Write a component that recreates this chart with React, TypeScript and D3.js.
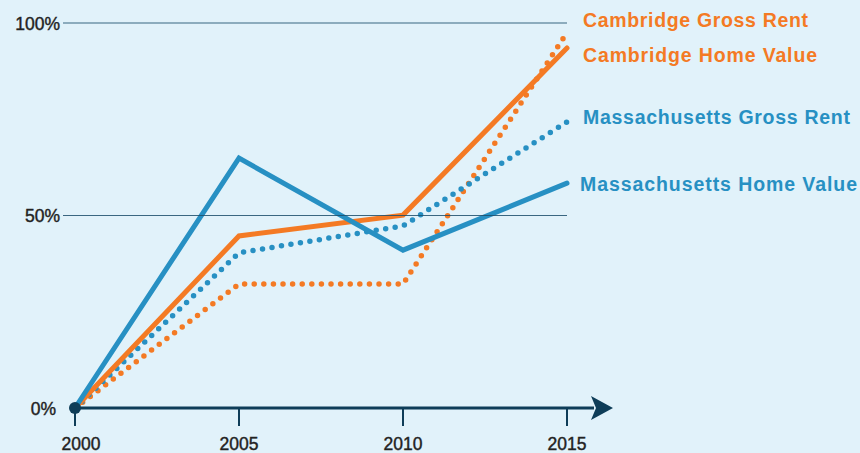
import React from "react";
import * as d3 from "d3";

const years = [2000, 2005, 2010, 2015];
const cambridgeGrossRent = [0, 32.2, 32.2, 97.5];
const cambridgeHomeValue = [0, 44.7, 50.1, 93.5];
const massGrossRent = [0, 40.3, 47.3, 74.3];
const massHomeValue = [0, 64.9, 41, 58.4];
const yTicks = [0, 50, 100];
const gridTicks = [50, 100];

const ORANGE = "#f47a24";
const BLUE = "#2790c3";
const NAVY = "#0e3d58";

const series = [
  { name: "Cambridge Gross Rent", values: cambridgeGrossRent, color: ORANGE, dotted: true, labelY: 27, labelX: 583, len: 225 },
  { name: "Massachusetts Gross Rent", values: massGrossRent, color: BLUE, dotted: true, labelY: 124, labelX: 583, len: 267 },
  { name: "Cambridge Home Value", values: cambridgeHomeValue, color: ORANGE, dotted: false, labelY: 62, labelX: 583, len: 234 },
  { name: "Massachusetts Home Value", values: massHomeValue, color: BLUE, dotted: false, labelY: 191, labelX: 580, len: 277 },
];

export default function App() {
  const W = 860, H = 453;
  const x = d3.scaleLinear().domain([2000, 2015]).range([75, 567]);
  const y = d3.scaleLinear().domain([0, 100]).range([408, 23]);
  const line = d3.line<number>().x((_, i) => x(years[i])).y((d) => y(d));

  return (
    <svg width={W} height={H} style={{ position: "absolute", left: 0, top: 0, background: "#e1f2fa" }}
      fontFamily="'Liberation Sans', Arial, sans-serif">
      <rect width={W} height={H} fill="#e1f2fa" />
      {series.map((s) => (
        <path key={s.name} d={line(s.values) || ""} fill="none" stroke={s.color}
          strokeWidth={s.dotted ? 5.5 : 5}
          strokeDasharray={s.dotted ? "0 9.6" : undefined}
          strokeLinecap="round" strokeLinejoin={s.dotted ? "round" : "miter"} />
      ))}
      {gridTicks.map((t) => (
        <line key={t} x1={63} x2={x(2015)} y1={y(t)} y2={y(t)} stroke="#1d4f6c" strokeWidth={1.2} opacity={0.85} />
      ))}
      {yTicks.map((t) => (
        <text key={t} x={t === 0 ? 56 : 60} y={y(t) + 6.5} textAnchor="end" fontSize={17.5} fill="#222"
          stroke="#222" strokeWidth={0.4}>{t}%</text>
      ))}
      {/* x axis */}
      <line x1={x(2000)} x2={594} y1={y(0)} y2={y(0)} stroke={NAVY} strokeWidth={3} />
      <path d={`M591,${y(0) - 12} L613,${y(0)} L591,${y(0) + 12} L596,${y(0)} Z`} fill={NAVY} />
      {years.map((yr, i) => (
        <g key={yr}>
          <line x1={x(yr)} x2={x(yr)} y1={y(0)} y2={y(0) + 18} stroke={NAVY} strokeWidth={2} />
          <text x={x(yr) + (i === 0 ? 6 : 0)} y={450} textAnchor="middle" fontSize={17.5} fill="#222"
            stroke="#222" strokeWidth={0.4}>{yr}</text>
        </g>
      ))}
      <circle cx={x(2000)} cy={y(0)} r={6} fill={NAVY} />
      {series.map((s) => (
        <text key={s.name + "l"} x={s.labelX} y={s.labelY} fontSize={19.5} fontWeight="bold" fill={s.color}
          textLength={s.len} lengthAdjust="spacing">{s.name}</text>
      ))}
    </svg>
  );
}
